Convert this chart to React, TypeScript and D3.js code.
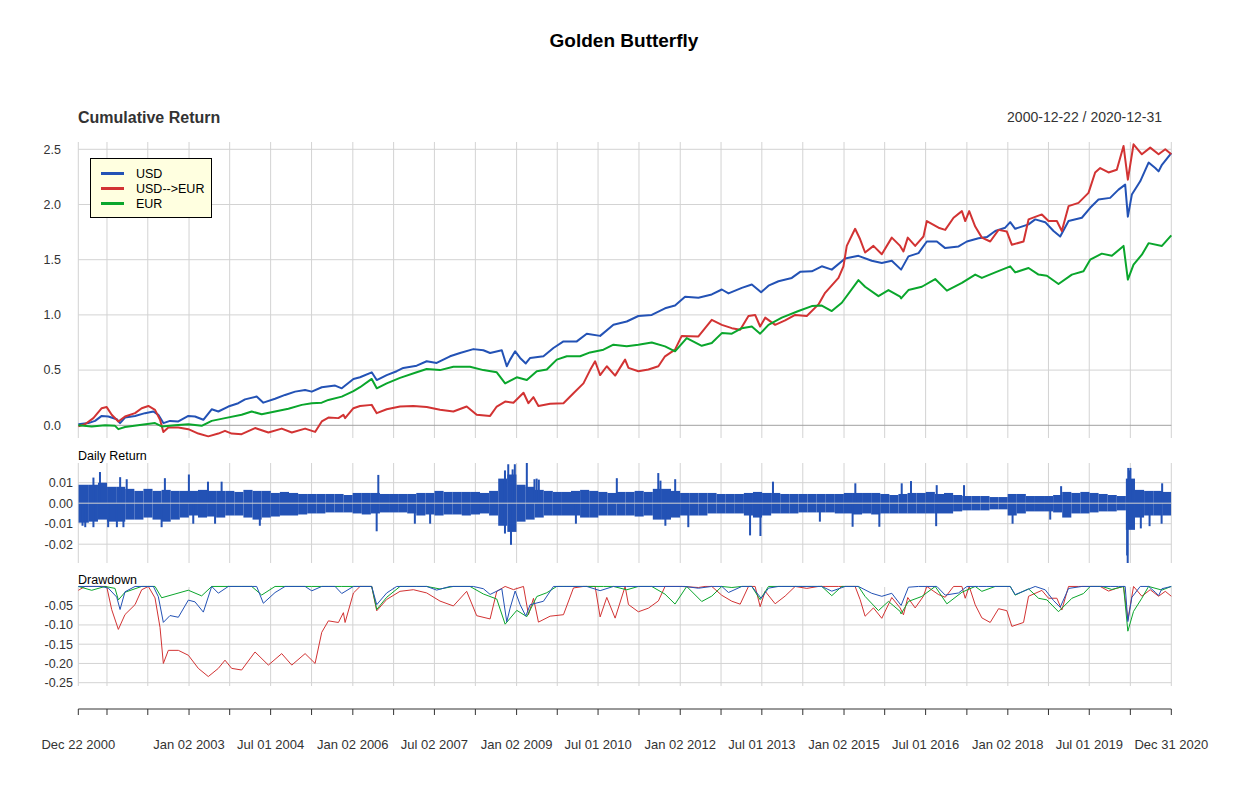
import React from "react";
import * as d3 from "d3";

type Pt = [number, number];

const seriesNames = ["USD", "USD-->EUR", "EUR"];
const seriesColors = ["#2352B5", "#D23333", "#0AA62C"];

// cumulative return, [decimal year, value]
const usd: Pt[] = [
  [2000.974, 0.01], [2001.157, 0.02], [2001.28, 0.04], [2001.402, 0.085], [2001.524, 0.08], [2001.677, 0.055],
  [2001.738, 0.02], [2001.829, 0.07], [2002.013, 0.085], [2002.196, 0.11], [2002.349, 0.125], [2002.44, 0.095],
  [2002.532, 0.02], [2002.654, 0.04], [2002.807, 0.035], [2002.99, 0.085], [2003.112, 0.08], [2003.265, 0.05],
  [2003.418, 0.145], [2003.54, 0.125], [2003.723, 0.17], [2003.906, 0.2], [2004.029, 0.235], [2004.242, 0.26],
  [2004.364, 0.205], [2004.578, 0.24], [2004.761, 0.275], [2004.945, 0.305], [2005.128, 0.32], [2005.25, 0.305],
  [2005.433, 0.345], [2005.678, 0.36], [2005.8, 0.335], [2006.014, 0.42],
  [2006.135, 0.435], [2006.349, 0.48], [2006.441, 0.41], [2006.624, 0.455], [2006.807, 0.49], [2006.929, 0.52],
  [2007.174, 0.54], [2007.357, 0.58], [2007.54, 0.565], [2007.785, 0.625], [2007.968, 0.655], [2008.212, 0.69],
  [2008.395, 0.68], [2008.518, 0.655], [2008.732, 0.68], [2008.823, 0.535], [2008.884, 0.595], [2008.976, 0.67],
  [2009.067, 0.61], [2009.171, 0.56], [2009.251, 0.61], [2009.495, 0.625], [2009.678, 0.7], [2009.862, 0.76],
  [2010.106, 0.76], [2010.289, 0.83], [2010.534, 0.81], [2010.778, 0.91], [2011.022, 0.94],
  [2011.235, 0.99], [2011.48, 1.0], [2011.724, 1.06], [2011.907, 1.085], [2012.091, 1.165], [2012.335, 1.155],
  [2012.579, 1.185], [2012.763, 1.23], [2012.885, 1.195], [2013.129, 1.245], [2013.312, 1.275], [2013.483, 1.205],
  [2013.618, 1.265], [2013.801, 1.305], [2014.045, 1.335], [2014.198, 1.39], [2014.412, 1.395], [2014.595, 1.44],
  [2014.778, 1.41], [2015.023, 1.51], [2015.267, 1.535], [2015.511, 1.49], [2015.695, 1.47], [2015.878, 1.49],
  [2016.049, 1.41], [2016.183, 1.53], [2016.367, 1.56], [2016.519, 1.665], [2016.703, 1.665], [2016.855, 1.605],
  [2017.1, 1.62], [2017.252, 1.665], [2017.466, 1.695], [2017.619, 1.705], [2017.772, 1.76], [2017.955, 1.79],
  [2018.047, 1.84], [2018.138, 1.78], [2018.383, 1.82], [2018.505, 1.865], [2018.688, 1.84], [2018.841, 1.76],
  [2018.963, 1.71], [2019.116, 1.85], [2019.36, 1.88], [2019.513, 1.97], [2019.665, 2.045], [2019.879, 2.06],
  [2020.032, 2.135], [2020.154, 2.18], [2020.203, 1.89], [2020.276, 2.09], [2020.429, 2.21], [2020.582, 2.38],
  [2020.704, 2.33], [2020.765, 2.3], [2020.826, 2.36], [2020.997, 2.465],
];

const usdEur: Pt[] = [
  [2000.974, -0.01], [2001.096, 0.01], [2001.249, 0.065], [2001.402, 0.155], [2001.493, 0.165], [2001.585, 0.095],
  [2001.707, 0.035], [2001.829, 0.08], [2002.013, 0.11], [2002.135, 0.155], [2002.257, 0.175], [2002.379, 0.14],
  [2002.471, 0.05], [2002.532, -0.06], [2002.623, -0.02], [2002.807, -0.02], [2002.99, -0.035], [2003.173, -0.075],
  [2003.356, -0.1], [2003.54, -0.075], [2003.662, -0.05], [2003.784, -0.075], [2003.967, -0.08], [2004.212, -0.025],
  [2004.456, -0.065], [2004.7, -0.03], [2004.884, -0.065], [2005.128, -0.03], [2005.311, -0.06], [2005.433, 0.035],
  [2005.555, 0.07], [2005.739, 0.065], [2005.83, 0.095], [2005.861, 0.065], [2006.014, 0.155],
  [2006.135, 0.175], [2006.349, 0.185], [2006.441, 0.11], [2006.624, 0.145], [2006.868, 0.17], [2007.113, 0.175],
  [2007.357, 0.165], [2007.601, 0.14], [2007.846, 0.125], [2008.09, 0.17], [2008.273, 0.095], [2008.518, 0.085],
  [2008.64, 0.17], [2008.793, 0.215], [2008.945, 0.205], [2009.129, 0.295], [2009.22, 0.2], [2009.312, 0.255],
  [2009.403, 0.175], [2009.617, 0.195], [2009.862, 0.2], [2010.045, 0.29], [2010.228, 0.38], [2010.35, 0.5],
  [2010.442, 0.58], [2010.534, 0.455], [2010.656, 0.535], [2010.809, 0.45], [2010.992, 0.595], [2011.053, 0.52],
  [2011.235, 0.49], [2011.419, 0.505], [2011.602, 0.535], [2011.724, 0.625], [2011.907, 0.685], [2012.03, 0.81],
  [2012.335, 0.805], [2012.457, 0.88], [2012.579, 0.955], [2012.763, 0.91], [2012.946, 0.88], [2013.099, 0.865],
  [2013.251, 0.99], [2013.373, 1.0], [2013.465, 0.895], [2013.557, 0.975], [2013.74, 0.91], [2013.923, 0.95],
  [2014.107, 1.0], [2014.32, 0.99], [2014.534, 1.095], [2014.656, 1.2], [2014.901, 1.335], [2014.992, 1.44],
  [2015.053, 1.625], [2015.206, 1.78], [2015.298, 1.685], [2015.389, 1.565], [2015.542, 1.625], [2015.695, 1.55],
  [2015.878, 1.7], [2016.031, 1.625],
  [2016.092, 1.575], [2016.171, 1.7], [2016.306, 1.625], [2016.458, 1.71], [2016.519, 1.85], [2016.733, 1.79],
  [2016.855, 1.77], [2017.008, 1.88], [2017.161, 1.94], [2017.222, 1.85], [2017.295, 1.94], [2017.405, 1.8],
  [2017.527, 1.7], [2017.68, 1.665], [2017.833, 1.77], [2017.985, 1.755], [2018.077, 1.635], [2018.291, 1.665],
  [2018.383, 1.865], [2018.627, 1.91], [2018.749, 1.85], [2018.902, 1.85], [2018.993, 1.76], [2019.116, 1.985],
  [2019.299, 2.015], [2019.482, 2.105], [2019.604, 2.29], [2019.696, 2.33], [2019.849, 2.29], [2020.001, 2.315],
  [2020.124, 2.53], [2020.203, 2.225], [2020.307, 2.545], [2020.459, 2.455], [2020.612, 2.515], [2020.765, 2.455],
  [2020.887, 2.5], [2020.997, 2.455],
];

const eur: Pt[] = [
  [2000.974, 0.0], [2001.218, -0.01], [2001.463, 0.0], [2001.646, -0.005], [2001.707, -0.035], [2001.829, -0.015],
  [2002.135, 0.005], [2002.379, 0.02], [2002.501, -0.01], [2002.746, 0.0], [2002.99, 0.01], [2003.234, -0.005],
  [2003.418, 0.04], [2003.662, 0.065], [2003.967, 0.095], [2004.151, 0.125], [2004.334, 0.1], [2004.578, 0.125],
  [2004.822, 0.15], [2005.067, 0.185], [2005.25, 0.2], [2005.433, 0.205], [2005.555, 0.23], [2005.8, 0.26],
  [2006.014, 0.31],
  [2006.135, 0.345], [2006.349, 0.42], [2006.441, 0.335], [2006.624, 0.38], [2006.868, 0.43], [2007.174, 0.48],
  [2007.357, 0.51], [2007.601, 0.5], [2007.846, 0.53], [2008.151, 0.53], [2008.395, 0.5], [2008.64, 0.48],
  [2008.793, 0.38], [2009.006, 0.435], [2009.19, 0.41], [2009.373, 0.49], [2009.556, 0.505], [2009.739, 0.595],
  [2009.923, 0.625], [2010.167, 0.625], [2010.35, 0.66], [2010.595, 0.685], [2010.778, 0.73], [2011.022, 0.715],
  [2011.235, 0.73], [2011.48, 0.75], [2011.724, 0.715], [2011.907, 0.67], [2012.121, 0.79], [2012.396, 0.72],
  [2012.579, 0.745], [2012.763, 0.835], [2012.946, 0.83], [2013.129, 0.88], [2013.312, 0.895], [2013.465, 0.83],
  [2013.618, 0.91], [2013.862, 0.975], [2014.168, 1.035], [2014.412, 1.08], [2014.595, 1.085], [2014.778, 1.035],
  [2014.962, 1.11], [2015.267, 1.315], [2015.389, 1.255], [2015.634, 1.17], [2015.817, 1.225], [2016.031, 1.165],
  [2016.049, 1.15], [2016.183, 1.225], [2016.428, 1.255], [2016.672, 1.325], [2016.886, 1.22], [2017.161, 1.29],
  [2017.405, 1.365], [2017.527, 1.335], [2017.772, 1.385], [2018.047, 1.44], [2018.138, 1.385], [2018.383, 1.425],
  [2018.566, 1.365], [2018.719, 1.355], [2018.932, 1.28], [2019.177, 1.365], [2019.39, 1.395], [2019.513, 1.5],
  [2019.726, 1.555], [2019.91, 1.535], [2020.124, 1.625], [2020.203, 1.32], [2020.307, 1.455], [2020.459, 1.545],
  [2020.582, 1.65], [2020.826, 1.625], [2020.997, 1.72],
];

// daily return of USD: dense band per two-month bin (high / low), plus isolated large days
const dailyBinStart = 2001;
const dailyHigh = [
  0.009, 0.009, 0.01, 0.008, 0.008, 0.007,
  0.006, 0.007, 0.006, 0.0065, 0.006, 0.006,
  0.006, 0.0065, 0.006, 0.006, 0.006, 0.0055,
  0.0065, 0.006, 0.006, 0.005, 0.0055, 0.005,
  0.0045, 0.0045, 0.0045, 0.0045, 0.0045, 0.004,
  0.005, 0.005, 0.005, 0.0045, 0.0045, 0.0045,
  0.0045, 0.005, 0.005, 0.006, 0.0055, 0.0055,
  0.0055, 0.0055, 0.005, 0.006, 0.012, 0.014,
  0.009, 0.008, 0.0065, 0.006, 0.0055, 0.0055,
  0.006, 0.0065, 0.006, 0.0055, 0.005, 0.0055,
  0.0055, 0.006, 0.0055, 0.007, 0.007, 0.006,
  0.005, 0.005, 0.005, 0.005, 0.0045, 0.0045,
  0.0045, 0.005, 0.0055, 0.005, 0.005, 0.0045,
  0.0045, 0.0045, 0.0045, 0.0045, 0.0045, 0.0045,
  0.005, 0.005, 0.005, 0.005, 0.0045, 0.004,
  0.0045, 0.005, 0.005, 0.0055, 0.0045, 0.005,
  0.004, 0.0035, 0.0035, 0.0035, 0.003, 0.003,
  0.0045, 0.0045, 0.0035, 0.0035, 0.0035, 0.004,
  0.0055, 0.005, 0.0055, 0.005, 0.0045, 0.004,
  0.0035, 0.012, 0.0065, 0.006, 0.006, 0.0055,
];
const dailyLow = [
  -0.0095, -0.009, -0.008, -0.009, -0.009, -0.008,
  -0.008, -0.007, -0.008, -0.009, -0.008, -0.007,
  -0.006, -0.007, -0.0065, -0.007, -0.006, -0.006,
  -0.007, -0.008, -0.007, -0.0065, -0.006, -0.006,
  -0.0055, -0.005, -0.005, -0.0045, -0.0045, -0.0045,
  -0.005, -0.0055, -0.005, -0.0045, -0.0045, -0.0045,
  -0.005, -0.006, -0.0055, -0.006, -0.0055, -0.0055,
  -0.006, -0.0055, -0.005, -0.006, -0.011, -0.014,
  -0.009, -0.008, -0.007, -0.006, -0.006, -0.006,
  -0.006, -0.007, -0.007, -0.006, -0.006, -0.006,
  -0.006, -0.0065, -0.006, -0.008, -0.008, -0.007,
  -0.006, -0.006, -0.006, -0.005, -0.005, -0.005,
  -0.005, -0.006, -0.007, -0.006, -0.005, -0.005,
  -0.005, -0.0045, -0.0045, -0.0045, -0.0045, -0.005,
  -0.005, -0.0055, -0.005, -0.0055, -0.005, -0.005,
  -0.005, -0.005, -0.005, -0.005, -0.005, -0.005,
  -0.004, -0.0035, -0.0035, -0.0035, -0.003, -0.003,
  -0.006, -0.005, -0.004, -0.004, -0.004, -0.0045,
  -0.007, -0.005, -0.005, -0.0045, -0.004, -0.004,
  -0.0035, -0.013, -0.007, -0.006, -0.006, -0.006,
];
const dailySpikes: Pt[] = [
  [2001.05, -0.011], [2001.1, -0.0117], [2001.25, 0.0125], [2001.25, -0.0117], [2001.37, 0.0152],
  [2001.52, -0.0117], [2001.68, -0.0117], [2001.74, 0.0127], [2001.8, -0.0117], [2001.86, 0.0117],
  [2002.5, -0.0117], [2002.56, 0.0122], [2003.0, 0.014], [2003.08, -0.01], [2003.35, 0.0105],
  [2003.48, -0.01], [2003.6, 0.0105], [2004.3, -0.011], [2006.44, -0.0137], [2006.47, 0.0138],
  [2007.14, -0.01], [2007.42, -0.01], [2008.79, 0.016], [2008.79, -0.0148], [2008.85, 0.019],
  [2008.9, -0.0203], [2008.93, 0.0165], [2008.97, 0.019], [2009.19, 0.0197], [2009.33, 0.0117],
  [2009.37, 0.012], [2009.41, 0.0115], [2010.09, -0.01], [2010.84, 0.0122], [2011.6, 0.0147],
  [2011.64, 0.011], [2011.73, -0.011], [2011.91, 0.0117], [2012.15, -0.0117], [2013.28, -0.0157],
  [2013.47, -0.016], [2013.7, 0.0105], [2014.56, -0.009], [2015.16, -0.0115], [2015.21, 0.0097],
  [2015.65, -0.0115], [2016.06, 0.0097], [2016.23, 0.0108], [2016.69, -0.0112], [2016.7, 0.0088],
  [2017.2, 0.0088], [2018.09, -0.01], [2018.78, -0.008], [2018.98, 0.0083], [2020.19, -0.0255],
  [2020.2, -0.0295], [2020.21, 0.0172], [2020.23, 0.016], [2020.25, 0.0172], [2020.44, -0.0123],
  [2020.6, -0.0112], [2020.82, -0.01], [2020.83, 0.0097],
];

const startDate = "2000-12-22";
const endDate = "2020-12-31";
const tickDates = [
  "2000-12-22", "2001-07-02", "2002-04-01", "2003-01-02", "2003-10-01", "2004-07-01", "2005-04-01",
  "2006-01-02", "2006-10-02", "2007-07-02", "2008-04-01", "2009-01-02", "2009-10-01", "2010-07-01",
  "2011-04-01", "2012-01-02", "2012-10-01", "2013-07-01", "2014-04-01", "2015-01-02", "2015-10-01",
  "2016-07-01", "2017-04-03", "2018-01-02", "2018-10-01", "2019-07-01", "2020-04-01", "2020-12-31",
];
const labelDates = [
  "2000-12-22", "2003-01-02", "2004-07-01", "2006-01-02", "2007-07-02", "2009-01-02", "2010-07-01",
  "2012-01-02", "2013-07-01", "2015-01-02", "2016-07-01", "2018-01-02", "2019-07-01", "2020-12-31",
];
const cumTicks = [0, 0.5, 1, 1.5, 2, 2.5];
const dailyTicks = [0.01, 0, -0.01, -0.02];
const ddTicks = [-0.05, -0.1, -0.15, -0.2, -0.25];

const FONT = "'Liberation Sans', Arial, Helvetica, sans-serif";

function yearToDate(y: number): Date {
  const yr = Math.floor(y);
  const s = Date.UTC(yr, 0, 1);
  const e = Date.UTC(yr + 1, 0, 1);
  return new Date(s + (y - yr) * (e - s));
}
const parse = d3.utcParse("%Y-%m-%d");
const fmtLabel = d3.utcFormat("%b %d %Y");

function drawdown(series: Pt[]): Pt[] {
  let peak = 1;
  return series.map(([t, v]) => {
    const w = 1 + v;
    peak = Math.max(peak, w);
    return [t, w / peak - 1] as Pt;
  });
}

export default function App() {
  const left = 78.3;
  const right = 1171.3;
  const x = d3.scaleUtc().domain([parse(startDate)!, parse(endDate)!]).range([left, right]);
  const xy = (t: number) => x(yearToDate(t));

  const yCum = d3.scaleLinear().domain([0, 2.5]).range([425.3, 149.3]);
  const yDay = d3.scaleLinear().domain([-0.02, 0.01]).range([544.2, 482.7]);
  const yDD = d3.scaleLinear().domain([-0.25, -0.05]).range([682.7, 605.7]);

  const all = [usd, usdEur, eur];
  const cumLine = d3.line<Pt>().x((d) => xy(d[0])).y((d) => yCum(d[1]));
  const ddLine = d3.line<Pt>().x((d) => xy(d[0])).y((d) => yDD(d[1]));

  const panels = [
    { top: 142, bottom: 438 },
    { top: 463, bottom: 563 },
    { top: 587, bottom: 686 },
  ];
  const grid = "#D3D3D3";
  const ticksX = tickDates.map((d) => x(parse(d)!));

  const dataStart = d3.min(usd, (d) => d[0])!;
  const dataEnd = d3.max(usd, (d) => d[0])!;
  const bins = dailyHigh.map((h, i) => {
    const t0 = i === 0 ? dataStart : dailyBinStart + i / 6;
    const t1 = Math.min(dailyBinStart + (i + 1) / 6, dataEnd);
    return { x0: xy(t0), x1: xy(t1), hi: h, lo: dailyLow[i] };
  });

  return (
    <svg
      width={1250}
      height={796}
      style={{ position: "absolute", left: 0, top: 0, background: "#fff" }}
      fontFamily={FONT}
    >
      <rect x={0} y={0} width={1250} height={796} fill="#fff" />
      <text x={624} y={47} textAnchor="middle" fontSize={19} fontWeight="bold" fill="#000">
        Golden Butterfly
      </text>
      <text x={78} y={123} fontSize={16} fontWeight="bold" fill="#333">
        Cumulative Return
      </text>
      <text x={1162} y={122} textAnchor="end" fontSize={14} fill="#333">
        {startDate} / {endDate}
      </text>

      {/* vertical grid lines */}
      {panels.map((p, pi) =>
        ticksX.map((tx, i) => (
          <line key={`v${pi}-${i}`} x1={tx} x2={tx} y1={p.top} y2={p.bottom} stroke={grid} strokeWidth={1} />
        ))
      )}

      {/* panel 1 */}
      {cumTicks.map((t) => (
        <g key={`c${t}`}>
          <line x1={left} x2={right} y1={yCum(t)} y2={yCum(t)} stroke={t === 0 ? "#A0A0A0" : grid} strokeWidth={1} />
          <text x={61} y={yCum(t)} dy="0.35em" textAnchor="end" fontSize={12.5} fill="#333">
            {t.toFixed(1)}
          </text>
        </g>
      ))}
      {all.map((s, i) => (
        <path key={`cl${i}`} d={cumLine(s)!} fill="none" stroke={seriesColors[i]} strokeWidth={2} strokeLinejoin="round" />
      ))}

      {/* legend */}
      <rect x={90.5} y={158.5} width={121} height={59} fill="#FFFFE0" stroke="#000" strokeWidth={1} />
      {seriesNames.map((n, i) => (
        <g key={`lg${i}`}>
          <line x1={101} x2={124} y1={173.5 + i * 15} y2={173.5 + i * 15} stroke={seriesColors[i]} strokeWidth={3} />
          <text x={136} y={173.5 + i * 15} dy="0.35em" fontSize={12.5} fill="#000">
            {n}
          </text>
        </g>
      ))}

      {/* panel 2 */}
      <text x={78} y={460} fontSize={12.5} fill="#000">Daily Return</text>
      {dailyTicks.map((t) =>
        t === 0 ? null : (
          <line key={`dg${t}`} x1={left} x2={right} y1={yDay(t)} y2={yDay(t)} stroke={grid} strokeWidth={1} />
        )
      )}
      <clipPath id="dayclip">
        <rect x={left} y={panels[1].top} width={right - left} height={panels[1].bottom - panels[1].top} />
      </clipPath>
      <g clipPath="url(#dayclip)" fill={seriesColors[0]}>
        {bins.map((b, i) => (
          <rect key={`b${i}`} x={b.x0} width={Math.max(0, b.x1 - b.x0)} y={yDay(b.hi)} height={yDay(b.lo) - yDay(b.hi)} />
        ))}
        {dailySpikes.map((s, i) => {
          const sx = xy(s[0]);
          const y0 = yDay(0);
          const y1 = yDay(s[1]);
          return <rect key={`s${i}`} x={sx - 1} width={2} y={Math.min(y0, y1)} height={Math.abs(y1 - y0)} />;
        })}
      </g>
      <line x1={left} x2={right} y1={yDay(0)} y2={yDay(0)} stroke={grid} strokeWidth={1} />
      {dailyTicks.map((t) => (
        <text key={`dt${t}`} x={73} y={yDay(t)} dy="0.35em" textAnchor="end" fontSize={12.5} fill="#333">
          {t.toFixed(2)}
        </text>
      ))}

      {/* panel 3 */}
      <text x={78} y={584} fontSize={12.5} fill="#000">Drawdown</text>
      {ddTicks.map((t) => (
        <g key={`dd${t}`}>
          <line x1={left} x2={right} y1={yDD(t)} y2={yDD(t)} stroke={grid} strokeWidth={1} />
          <text x={73} y={yDD(t)} dy="0.35em" textAnchor="end" fontSize={12.5} fill="#333">
            {t.toFixed(2)}
          </text>
        </g>
      ))}
      {[1, 2, 0].map((i) => (
        <path key={`dl${i}`} d={ddLine(drawdown(all[i]))!} fill="none" stroke={seriesColors[i]} strokeWidth={1} />
      ))}

      {/* x axis */}
      <line x1={left} x2={right} y1={709} y2={709} stroke="#333" strokeWidth={1} />
      {ticksX.map((tx, i) => (
        <line key={`xt${i}`} x1={tx} x2={tx} y1={709} y2={715} stroke="#333" strokeWidth={1} />
      ))}
      {labelDates.map((d) => (
        <text key={`xl${d}`} x={x(parse(d)!)} y={749} textAnchor="middle" fontSize={13} fill="#333">
          {fmtLabel(parse(d)!)}
        </text>
      ))}
    </svg>
  );
}
